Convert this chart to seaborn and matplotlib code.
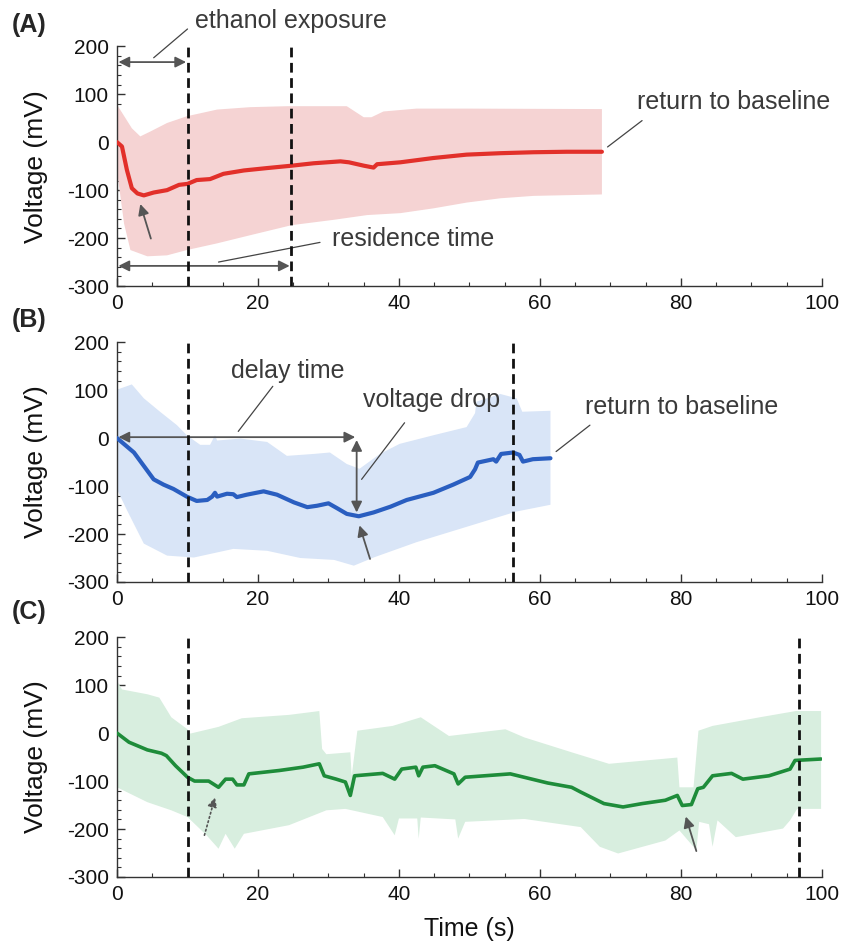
import matplotlib
matplotlib.use("Agg")
import matplotlib.pyplot as plt
import seaborn as sns
import numpy as np

# panel A (red)
a_t = [0, 0.7, 1.4, 2.1, 2.9, 3.8, 5.2, 7.1, 8.8, 10, 11.3, 13.2, 15.1, 18, 21.3, 24.8, 27.9,
       31.7, 32.9, 35, 36.4, 36.9, 40.2, 44.9, 49.6, 54.4, 59.1, 63.8, 68.8]
a_v = [0, -9, -58, -96, -107, -111, -105, -100, -89, -87, -79, -77, -66, -59, -54, -49, -44,
       -40, -42, -49, -53, -46, -42, -33, -26, -23, -21, -20, -20]
a_up_t = [0, 0.9, 2.1, 3.3, 4.7, 7.1, 9.9, 14.2, 18.9, 24.1, 32.6, 35, 36.1, 37.8, 42.5, 49.6, 68.8]
a_up_v = [78, 57, 29, 12, 22, 40, 54, 68, 73, 75, 75, 52, 52, 64, 70, 70, 69]
a_lo_t = [0, 1, 1.9, 4.3, 7.1, 9.9, 14.2, 18.9, 24.8, 30.7, 35.5, 40.2, 44.9, 49.6, 54.4, 59.1, 68.8]
a_lo_v = [-60, -170, -225, -238, -236, -225, -211, -194, -173, -162, -152, -148, -138, -126, -117, -112, -109]

# panel B (blue)
b_t = [0, 2.4, 3.8, 5.2, 6.6, 8.0, 9.9, 11.3, 12.8, 13.5, 13.9, 14.2, 15.6, 16.5, 17.0, 18.4, 20.8,
       22.7, 25.1, 27, 28.4, 30, 31.2, 32.6, 34.3, 36.4, 38.8, 41.1, 44.9, 47.7, 50.1, 50.8, 51.2,
       53.4, 53.8, 54.5, 56.2, 57.1, 57.6, 59, 61.5]
b_v = [0, -30, -58, -86, -97, -106, -122, -131, -129, -122, -114, -122, -116, -117, -123, -118, -111,
       -118, -134, -144, -141, -136, -146, -158, -163, -155, -143, -129, -114, -97, -81, -65, -51,
       -44, -49, -33, -30, -35, -49, -44, -42]
b_up_t = [0, 2.1, 3.8, 6.1, 8.5, 9.9, 11.8, 13.2, 13.9, 14.2, 17.5, 21.3, 24.1, 27.9, 30.2, 32.6,
          34.4, 37.3, 40.1, 44.9, 49.6, 50.8, 51, 54.4, 56.7, 57.5, 61.5]
b_up_v = [101, 112, 83, 55, 27, 6, -14, -14, 6, -5, -1, -8, -37, -33, -30, -54,
          -64, -33, -12, 6, 23, 52, 76, 92, 83, 55, 57]
b_lo_t = [0, 1.4, 3.8, 7.1, 10.9, 16.5, 21.3, 26, 30.8, 33.6, 36.4, 42.5, 49.6, 56.7, 61.5]
b_lo_v = [-107, -150, -220, -245, -249, -231, -235, -250, -254, -266, -249, -217, -185, -153, -139]

# panel C (green)
c_t = [0, 1.7, 4.3, 6.3, 7, 8.3, 10, 11, 13, 14.4, 15.4, 16.4, 17, 18, 18.7, 23, 26.4, 28.7, 29.4,
       31.1, 32.4, 33.1, 33.7, 37.7, 39.4, 40.4, 42.4, 42.8, 43.4, 45.1, 47.8, 48.4, 49.4, 55.8,
       61.1, 64.5, 65.8, 69.1, 71.8, 74.5, 77.8, 79.5, 80.2, 81.5, 82.4, 83.2, 84.5, 87.2, 88.8,
       92.5, 95.5, 96.2, 99.9]
c_v = [0, -19, -35, -42, -47, -68, -92, -100, -100, -113, -96, -96, -108, -108, -85, -78, -71, -64, -89,
       -96, -102, -130, -89, -84, -96, -75, -71, -89, -71, -68, -85, -106, -92, -85,
       -104, -113, -123, -147, -154, -147, -140, -130, -151, -149, -116, -113, -89, -84, -96,
       -89, -75, -57, -54]
c_up_t = [0, 0.7, 4.3, 6, 7.7, 10, 10.4, 14.4, 17.7, 24.4, 27.1, 28.7, 29.1, 29.7, 33.1, 33.3, 34.1,
          39.1, 43.1, 47.1, 55.1, 57.8, 64.5, 69.8, 79.5, 79.8, 81.8, 82.5, 84.5, 91.2, 96.3, 99.9]
c_up_v = [109, 91, 81, 74, 33, 8, -1, 13, 31, 38, 43, 46, -33, -44, -40, -89, 5,
          15, 33, -6, 8, -9, -40, -64, -51, -113, -113, 5, 15, 33, 46, 46]
c_lo_t = [0, 4.3, 7.7, 10, 12.7, 14.4, 15.4, 16.7, 18, 24.4, 29.7, 32.4, 37.7, 39.4, 40, 42.6, 42.8,
          43.1, 48.0, 48.4, 49.4, 57.8, 65.8, 68.5, 71.1, 77.8, 79.8, 82.2, 82.6, 84.0, 84.5, 85.2,
          87.8, 94.5, 95.5, 96.5, 99.9]
c_lo_v = [-113, -144, -161, -175, -213, -241, -210, -241, -210, -192, -161, -158, -175, -213, -178, -178, -220,
          -176, -180, -220, -185, -179, -196, -237, -251, -224, -203, -244, -185, -190, -237, -182,
          -217, -199, -182, -158, -158]

panels = [
    ("(A)", a_t, a_v, a_up_t, a_up_v, a_lo_t, a_lo_v, "#e2302a", "#f5d3d3", [10, 24.7]),
    ("(B)", b_t, b_v, b_up_t, b_up_v, b_lo_t, b_lo_v, "#2a5ec0", "#d9e5f7", [10, 56.2]),
    ("(C)", c_t, c_v, c_up_t, c_up_v, c_lo_t, c_lo_v, "#1e8c3a", "#d8eedf", [10, 96.7]),
]

sns.set_style("ticks")
plt.rcParams['font.family'] = ['Liberation Sans', 'DejaVu Sans']
plt.rcParams['axes.unicode_minus'] = False

fig = plt.figure(figsize=(8.42, 9.44), dpi=100)
left, width, height = 0.139, 0.837, 0.254
bottoms = [0.697, 0.3835, 0.071]
label_y = [0.973, 0.661, 0.352]

gray = "#555555"
tcol = "#3a3a3a"
axes = []
for i, (lab, t, v, ut, uv, lt, lv, lc, fc, dash) in enumerate(panels):
    ax = fig.add_axes([left, bottoms[i], width, height])
    axes.append(ax)
    ax.fill(np.concatenate([ut, lt[::-1]]), np.concatenate([uv, lv[::-1]]),
            color=fc, lw=0, zorder=1)
    sns.lineplot(x=t, y=v, ax=ax, color=lc, lw=3 if i < 2 else 2.6, estimator=None, zorder=3)
    for d in dash:
        ax.axvline(d, color="#111111", ls=(0, (3.5, 2)), lw=2, zorder=4)
    ax.set_xlim(0, 100)
    ax.set_ylim(-300, 200)
    ax.set_xticks(np.arange(0, 101, 20))
    ax.set_xticks(np.arange(0, 101, 5), minor=True)
    ax.set_yticks(np.arange(-300, 201, 100))
    ax.set_yticks(np.arange(-300, 201, 20), minor=True)
    ax.tick_params(which="major", direction="in", length=6, width=1, labelsize=15, pad=6,
                   color="#333", labelcolor="#111")
    ax.tick_params(which="minor", direction="in", length=3, width=0.8, color="#333")
    for s in ["top", "right"]:
        ax.spines[s].set_visible(False)
    for s in ["left", "bottom"]:
        ax.spines[s].set_color("#333")
        ax.spines[s].set_linewidth(1)
    ax.set_ylabel("Voltage (mV)", fontsize=19, color="#111")
    ax.yaxis.set_label_coords(-0.098, 0.5)
    ax.set_xlabel("")
    fig.text(0.014, label_y[i], lab, fontsize=18, fontweight="bold", va="center")

axes[2].set_xlabel("Time (s)", fontsize=18, color="#111")
axes[2].xaxis.set_label_coords(0.5, -0.165)

dbl = dict(arrowstyle="<|-|>", color=gray, lw=1.3, mutation_scale=16, shrinkA=0, shrinkB=0)
one = dict(arrowstyle="-|>", color=gray, lw=1.3, mutation_scale=16, shrinkA=0, shrinkB=0)
lead = dict(arrowstyle="-", color="#444444", lw=0.9, shrinkA=0, shrinkB=0)

# panel A annotations
ax = axes[0]
ax.annotate("", xy=(0.2, 167), xytext=(9.8, 167), arrowprops=dbl, annotation_clip=False)
ax.annotate("", xy=(0.2, -258), xytext=(24.5, -258), arrowprops=dbl, annotation_clip=False)
ax.annotate("", xy=(5.2, 176), xytext=(10, 236), arrowprops=lead, annotation_clip=False)
ax.text(11, 252, "ethanol exposure", fontsize=18, color=tcol, va="center", clip_on=False)
ax.annotate("", xy=(14.4, -250), xytext=(28.8, -209), arrowprops=lead)
ax.text(30.5, -202, "residence time", fontsize=18, color=tcol, va="center")
ax.annotate("", xy=(3.3, -129), xytext=(4.8, -201), arrowprops=one)
ax.annotate("", xy=(69.6, -10), xytext=(74.5, 45), arrowprops=lead)
ax.text(73.8, 84, "return to baseline", fontsize=18, color=tcol, va="center")

# panel B annotations
ax = axes[1]
ax.annotate("", xy=(0.2, 2), xytext=(33.8, 2), arrowprops=dbl)
ax.annotate("", xy=(34.0, -4), xytext=(34.0, -155), arrowprops=dbl)
ax.annotate("", xy=(17.2, 14), xytext=(22.1, 108), arrowprops=lead)
ax.text(16.2, 140, "delay time", fontsize=18, color=tcol, va="center")
ax.annotate("", xy=(34.7, -86), xytext=(40.8, 32), arrowprops=lead)
ax.text(34.9, 80, "voltage drop", fontsize=18, color=tcol, va="center")
ax.annotate("", xy=(34.4, -182), xytext=(35.9, -252), arrowprops=one)
ax.annotate("", xy=(62.3, -28), xytext=(67.1, 27), arrowprops=lead)
ax.text(66.4, 64, "return to baseline", fontsize=18, color=tcol, va="center")

# panel C annotations
ax = axes[2]
dotted = dict(arrowstyle="-|>", color=gray, lw=1.2, ls=":", mutation_scale=14, shrinkA=0, shrinkB=0)
ax.annotate("", xy=(13.9, -134), xytext=(12.4, -213), arrowprops=dotted)
ax.annotate("", xy=(80.7, -174), xytext=(82.2, -246), arrowprops=one)

fig.savefig("out.png", dpi=100)
